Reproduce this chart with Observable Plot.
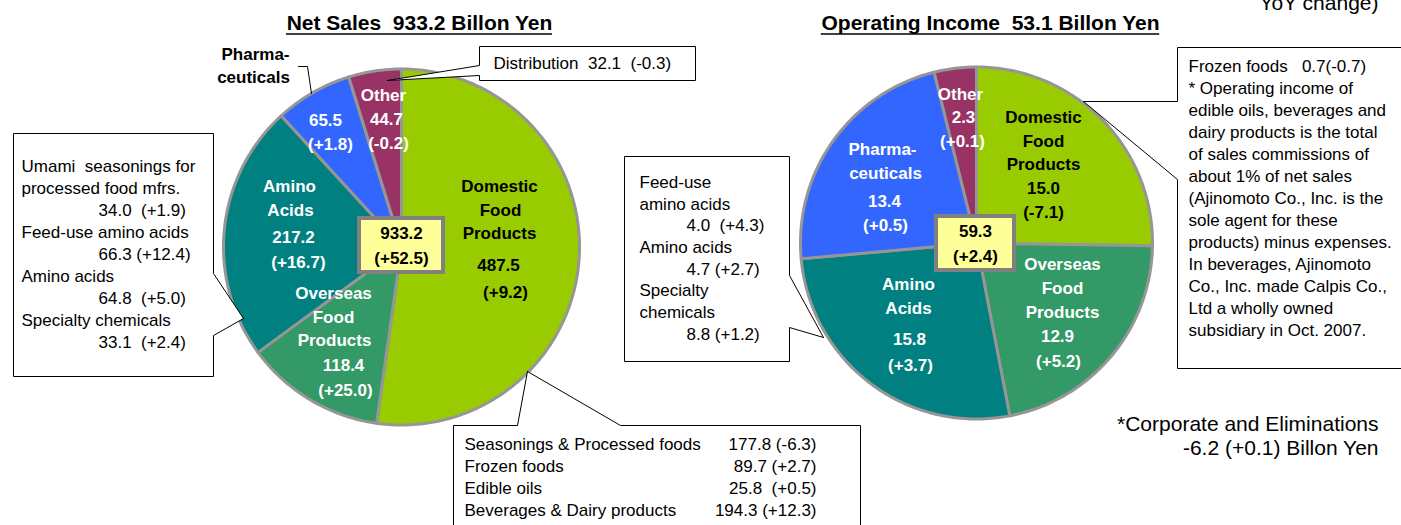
<!DOCTYPE html>
<html>
<head>
<meta charset="utf-8">
<script src="https://cdn.jsdelivr.net/npm/d3@7"></script>
<script src="https://cdn.jsdelivr.net/npm/@observablehq/plot@0.6"></script>
<style>
html, body { margin: 0; padding: 0; background: #fff; }
#chart { width: 1401px; height: 525px; overflow: hidden; }
#chart svg text { white-space: pre; }
</style>
</head>
<body>
<div id="chart"></div>
<script>
// ---------------- DATA ----------------
const segments = ["Domestic Food Products", "Overseas Food Products", "Amino Acids", "Pharmaceuticals", "Other"];
const segmentNameLines = [["Domestic", "Food", "Products"], ["Overseas", "Food", "Products"], ["Amino", "Acids"], ["Pharma-", "ceuticals"], ["Other"]];
const netSales = [487.5, 118.4, 217.2, 65.5, 44.7];
const netSalesChange = [9.2, 25.0, 16.7, 1.8, -0.2];
const opIncome = [15.0, 12.9, 15.8, 13.4, 2.3];
const opIncomeChange = [-7.1, 5.2, 3.7, 0.5, 0.1];
const netSalesTotal = [933.2, 52.5];
const opIncomeTotal = [59.3, 2.4];
const titles = ["Net Sales  933.2 Billon Yen", "Operating Income  53.1 Billon Yen"];

const distributionItem = ["Distribution", 32.1, -0.3];
const aminoSalesItems = ["Umami  seasonings for\nprocessed food mfrs.", "Feed-use amino acids", "Amino acids", "Specialty chemicals"];
const aminoSalesValues = [34.0, 66.3, 64.8, 33.1];
const aminoSalesChanges = [1.9, 12.4, 5.0, 2.4];
const domesticSalesItems = ["Seasonings & Processed foods", "Frozen foods", "Edible oils", "Beverages & Dairy products"];
const domesticSalesValues = [177.8, 89.7, 25.8, 194.3];
const domesticSalesChanges = [-6.3, 2.7, 0.5, 12.3];
const aminoIncomeItems = ["Feed-use\namino acids", "Amino acids", "Specialty\nchemicals"];
const aminoIncomeValues = [4.0, 4.7, 8.8];
const aminoIncomeChanges = [4.3, 2.7, 1.2];
const frozenIncome = ["Frozen foods", 0.7, -0.7];
const noteLines = ["* Operating income of", "edible oils, beverages and", "dairy products is the total",
  "of sales commissions of", "about 1% of net sales", "(Ajinomoto Co., Inc. is the", "sole agent for these",
  "products) minus expenses.", "In beverages, Ajinomoto", "Co., Inc. made Calpis Co.,", "Ltd a wholly owned",
  "subsidiary in Oct. 2007."];
const corporateLines = ["*Corporate and Eliminations", "-6.2 (+0.1) Billon Yen"];
const unitTail = "YoY change)";

// ---------------- STYLE / LAYOUT ----------------
const W = 1401, H = 525;
const segmentColors = ["#99cc00", "#339966", "#008080", "#3366ff", "#993366"];
const labelInk = ["#000", "#fff", "#fff", "#fff", "#fff"];
const FONT = "'Liberation Sans', Arial, sans-serif";
const TITLE_SIZE = 21;
const pies = [
  {cx: 401, cy: 246.5, r: 178, values: netSales, changes: netSalesChange, total: netSalesTotal,
   box: [359, 218, 443, 272], totalY: [233, 258], titleX: 419,
   labelPos: [
     [[499,186],[500,210],[499,233],[498,265],[505,292]],
     [[333,293],[333,317],[334,340],[343,365],[345,390]],
     [[289,186],[290,210],[293,237],[298,262]],
     [[325,120],[330,144]],
     [[383,95],[386,119],[388,143]]
   ], outsideName: 3},
  {cx: 976, cy: 242.5, r: 176, values: opIncome, changes: opIncomeChange, total: opIncomeTotal,
   box: [936, 216, 1014, 270], totalY: [231, 256], titleX: 990,
   labelPos: [
     [[1043,117],[1043,141],[1043,164],[1043,188],[1043,212]],
     [[1062,264],[1062,288],[1062,312],[1057,336],[1058,361]],
     [[908,284],[908,308],[909,339],[910,365]],
     [[882,149],[885,173],[884,201],[885,225]],
     [[960,94],[963,117],[962,141]]
   ], outsideName: -1}
];

const signed = c => (c > 0 ? "+" : "") + c.toFixed(1);
const valueText = (v, c, gap) => `${v.toFixed(1)}${gap}(${signed(c)})`;

// pie slice polygons via d3.pie
function slicePolygons(p) {
  const arcs = d3.pie().sort(null).value(d => d)(p.values);
  return arcs.map((a, i) => {
    const pts = [[p.cx, p.cy]];
    const n = Math.max(3, Math.ceil((a.endAngle - a.startAngle) / (Math.PI / 180)));
    for (let k = 0; k <= n; k++) {
      const t = a.startAngle + (a.endAngle - a.startAngle) * k / n;
      pts.push([p.cx + p.r * Math.sin(t), p.cy - p.r * Math.cos(t)]);
    }
    pts.push([p.cx, p.cy]);
    return {i, pts};
  });
}

const marks = [];
const px = d => d[0], py = d => d[1];

// callout boxes (white polygons with pointer)
const callouts = [
  [[387,80],[479,65],[479,46],[695,46],[695,80],[479,80],[479,75],[387,80]],
  [[243,318],[213,273],[213,133],[13,133],[13,376],[213,376],[213,335],[243,318]],
  [[527,371],[620,425],[860,425],[860,545],[453,545],[453,425],[517,425],[527,371]],
  [[823,337],[789,275],[789,156],[624,156],[624,361],[789,361],[789,327],[823,337]],
  [[1083,101],[1177,101],[1177,47],[1420,47],[1420,368],[1177,368],[1177,179],[1083,101]]
];

for (const p of pies) {
  slicePolygons(p).forEach(s => {
    marks.push(Plot.line(s.pts, {x: px, y: py, fill: segmentColors[s.i], stroke: "#969696",
      strokeWidth: 3, strokeLinejoin: "round"}));
  });
}
for (const c of callouts) {
  marks.push(Plot.line(c, {x: px, y: py, fill: "white", stroke: "black", strokeWidth: 1}));
}
// leader for outside Pharmaceuticals label
marks.push(Plot.line([[298,66],[307,66],[311,93]], {x: px, y: py, stroke: "black", strokeWidth: 1}));

// center total boxes
marks.push(Plot.rect(pies, {x1: p => p.box[0], y1: p => p.box[1], x2: p => p.box[2], y2: p => p.box[3],
  fill: "#ffff99", stroke: "#808080", strokeWidth: 4}));

// slice labels
const sliceLabels = [];
for (const p of pies) {
  p.values.forEach((v, i) => {
    const lines = (i === p.outsideName ? [] : segmentNameLines[i]).concat([v.toFixed(1), `(${signed(p.changes[i])})`]);
    lines.forEach((t, k) => sliceLabels.push({t, x: p.labelPos[i][k][0], y: p.labelPos[i][k][1], ink: labelInk[i]}));
  });
  sliceLabels.push({t: p.total[0].toFixed(1), x: (p.box[0] + p.box[2]) / 2, y: p.totalY[0], ink: "#000"});
  sliceLabels.push({t: `(${signed(p.total[1])})`, x: (p.box[0] + p.box[2]) / 2, y: p.totalY[1], ink: "#000"});
}
sliceLabels.push({t: segmentNameLines[3][0], x: 255, y: 54, ink: "#000"});
sliceLabels.push({t: segmentNameLines[3][1], x: 253, y: 77, ink: "#000"});
marks.push(Plot.text(sliceLabels, {x: "x", y: "y", text: "t", fill: "ink", fontFamily: FONT, fontSize: 17,
  fontWeight: "bold", lineAnchor: "middle", ariaLabel: "slice-labels"}));

// titles with underline (width measured from the font)
const ctx = document.createElement("canvas").getContext("2d");
ctx.font = `bold ${TITLE_SIZE}px 'Liberation Sans', Arial, sans-serif`;
const titleRows = pies.map((p, i) => {
  const w = ctx.measureText(titles[i]).width;
  return {t: titles[i], x: p.titleX, x1: p.titleX - w / 2, x2: p.titleX + w / 2};
});
marks.push(Plot.text(titleRows, {x: "x", y: () => 23, text: "t", fontFamily: FONT,
  fontSize: TITLE_SIZE, fontWeight: "bold", fill: "black", lineAnchor: "middle"}));
marks.push(Plot.ruleY(titleRows, {x1: "x1", x2: "x2", y: () => 33.5, stroke: "black", strokeWidth: 1.6}));

// callout texts
const boxText = [];
boxText.push({t: `${distributionItem[0]}  ${valueText(distributionItem[1], distributionItem[2], "  ")}`, x: 493, y: 63, a: "start"});
{
  let y = 166;
  aminoSalesItems.forEach((name, i) => {
    name.split("\n").forEach(l => { boxText.push({t: l, x: 21, y, a: "start"}); y += 22; });
    boxText.push({t: valueText(aminoSalesValues[i], aminoSalesChanges[i], Math.abs(aminoSalesChanges[i]) < 10 ? "  " : " "), x: 98, y, a: "start"});
    y += 22;
  });
}
domesticSalesItems.forEach((name, i) => {
  const y = 444 + 22 * i;
  boxText.push({t: name, x: 464, y, a: "start"});
  boxText.push({t: valueText(domesticSalesValues[i], domesticSalesChanges[i], i === 2 ? "  " : " "), x: 816, y, a: "end"});
});
{
  let y = 182;
  aminoIncomeItems.forEach((name, i) => {
    name.split("\n").forEach(l => { boxText.push({t: l, x: 639, y, a: "start"}); y += 21.7; });
    boxText.push({t: valueText(aminoIncomeValues[i], aminoIncomeChanges[i], i === 0 ? "  " : " "), x: 686, y, a: "start"});
    y += 21.7;
  });
}
boxText.push({t: `${frozenIncome[0]}   ${frozenIncome[1].toFixed(1)}(${signed(frozenIncome[2])})`, x: 1188, y: 66, a: "start"});
noteLines.forEach((l, i) => boxText.push({t: l, x: 1188, y: 88 + 22 * i, a: "start"}));
marks.push(Plot.text(boxText.filter(d => d.a === "start"), {x: "x", y: "y", text: "t", textAnchor: "start",
  fontFamily: FONT, fontSize: 17, fill: "black", lineAnchor: "middle"}));
marks.push(Plot.text(boxText.filter(d => d.a === "end"), {x: "x", y: "y", text: "t", textAnchor: "end",
  fontFamily: FONT, fontSize: 17, fill: "black", lineAnchor: "middle"}));

// free notes
const freeNotes = corporateLines.map((t, i) => ({t, x: 1378, y: 424 + 24 * i})).concat([{t: unitTail, x: 1378, y: 3}]);
marks.push(Plot.text(freeNotes, {x: "x", y: "y", text: "t", textAnchor: "end", fontFamily: FONT, fontSize: 21,
  fill: "black", lineAnchor: "middle"}));

const chart = Plot.plot({
  width: W, height: H,
  marginTop: 0, marginRight: 0, marginBottom: 0, marginLeft: 0,
  x: {domain: [0, W], range: [0, W], axis: null},
  y: {domain: [0, H], range: [0, H], axis: null},
  style: {background: "white", overflow: "hidden"},
  marks
});
chart.querySelectorAll('g[aria-label="slice-labels"] text').forEach(t => t.style.letterSpacing = "0.9px");
document.getElementById("chart").appendChild(chart);
</script>
</body>
</html>
